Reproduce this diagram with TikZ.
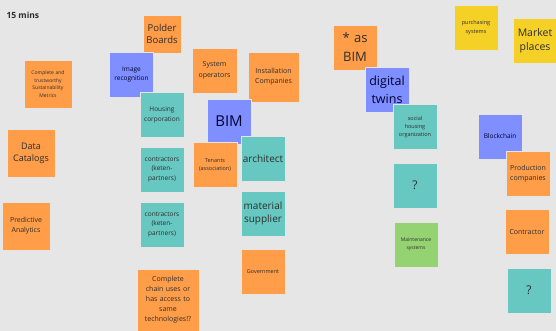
\documentclass[tikz,border=0pt]{standalone}
\usepackage{fontspec}
\setmainfont{Open Sans}
\hyphenpenalty=10000
\definecolor{board}{HTML}{E6E6E6}
\definecolor{orangenote}{HTML}{FF9D48}
\definecolor{bluenote}{HTML}{7F8FFF}
\definecolor{tealnote}{HTML}{67C7C1}
\definecolor{yellownote}{HTML}{F5D128}
\definecolor{greennote}{HTML}{94D272}
\definecolor{notetext}{HTML}{2E2E2E}
\begin{document}
\begin{tikzpicture}[x=1pt,y=-1pt,
    note/.style={minimum width=44pt,minimum height=45pt,inner sep=0pt,
      text width=41pt,align=center,text=notetext,draw=black!10,line width=0.4pt},
    orange/.style={note,fill=orangenote},
    blue/.style={note,fill=bluenote,text=black!80!blue},
    teal/.style={note,fill=tealnote},
    yellow/.style={note,fill=yellownote},
    green/.style={note,fill=greennote}]
      \fill[board] (0,0) rectangle (556,331);
      \clip (0,0) rectangle (556,331);
      \node[anchor=west,font=\fontsize{8.5}{10}\selectfont\bfseries,text=notetext] (title) at (3,15) {15 mins};
      % left column
      \node[orange,minimum size=48pt,text width=45pt,font=\fontsize{5}{7.7}\selectfont] (metrics) at (48,84)
        {Complete and\\trustworthy\\Sustainability\\Metrics};
      \node[orange,minimum size=48pt,font=\fontsize{9}{12}\selectfont] (catalogs) at (31,153) {Data Catalogs};
      \node[orange,minimum size=48pt,font=\fontsize{7}{10}\selectfont] (analytics) at (26,226) {Predictive Analytics};
      % middle cluster
      \node[orange,minimum size=38pt,text width=36pt,font=\fontsize{9.5}{12.7}\selectfont] (polder) at (162,34) {Polder Boards};
      \node[blue,font=\fontsize{6.5}{9.3}\selectfont] (image) at (131.5,74.5) {Image recognition};
      \node[teal,font=\fontsize{6.5}{9.3}\selectfont] (housing) at (162,115) {Housing corporation};
      \node[orange,minimum width=45pt,font=\fontsize{7}{11}\selectfont] (operators) at (214.5,70.5) {System operators};
      \node[orange,minimum width=51pt,minimum height=50pt,text width=48pt,font=\fontsize{7}{10}\selectfont] (installation) at (273.5,77)
        {Installation Companies};
      \node[blue,font=\fontsize{15}{18}\selectfont] (bim) at (229,121.5) {BIM};
      \node[orange,font=\fontsize{5.5}{8}\selectfont] (tenants) at (215,164.5) {Tenants\\(association)};
      \node[teal,font=\fontsize{10}{13}\selectfont] (architect) at (263,158.5) {architect};
      \node[teal,font=\fontsize{6.5}{9.7}\selectfont] (contractorsA) at (162,169.5) {contractors\\(keten-\\partners)};
      \node[teal,font=\fontsize{6.5}{9.7}\selectfont] (contractorsB) at (162,224.5) {contractors\\(keten-\\partners)};
      \node[teal,font=\fontsize{10}{12.7}\selectfont] (material) at (263,213.5) {material supplier};
      \node[orange,font=\fontsize{5.5}{8}\selectfont] (government) at (263,272) {Government};
      \node[orange,minimum size=62pt,text width=58pt,font=\fontsize{7}{10}\selectfont] (chain) at (168,300)
        {Complete\\chain uses or\\has access to\\same\\technologies!?};
      % right cluster
      \node[orange,font=\fontsize{13}{19}\selectfont] (asbim) at (355,47.5) {* as\\BIM};
      \node[blue,font=\fontsize{12.5}{18}\selectfont] (twins) at (387,90) {digital\\twins};
      \node[teal,font=\fontsize{5.5}{8.3}\selectfont] (social) at (415,127) {social\\housing\\organization};
      \node[teal,font=\fontsize{12}{14}\selectfont] (questionA) at (415,185.5) {?};
      \node[green,font=\fontsize{5}{8}\selectfont] (maintenance) at (416,244.5) {Maintenance\\systems};
      \node[yellow,font=\fontsize{5.5}{8.7}\selectfont] (purchasing) at (476,27.5) {purchasing\\systems};
      \node[yellow,font=\fontsize{10.5}{14.3}\selectfont] (market) at (535,41) {Market\\places};
      \node[blue,font=\fontsize{6.5}{9}\selectfont] (blockchain) at (500,136.5) {Blockchain};
      \node[orange,font=\fontsize{7}{10}\selectfont] (production) at (528,173.5) {Production\\companies};
      \node[orange,font=\fontsize{7}{10}\selectfont] (contractor) at (527,231.5) {Contractor};
      \node[teal,font=\fontsize{12}{14}\selectfont] (questionB) at (529,290.5) {?};
    \end{tikzpicture}
\end{document}
